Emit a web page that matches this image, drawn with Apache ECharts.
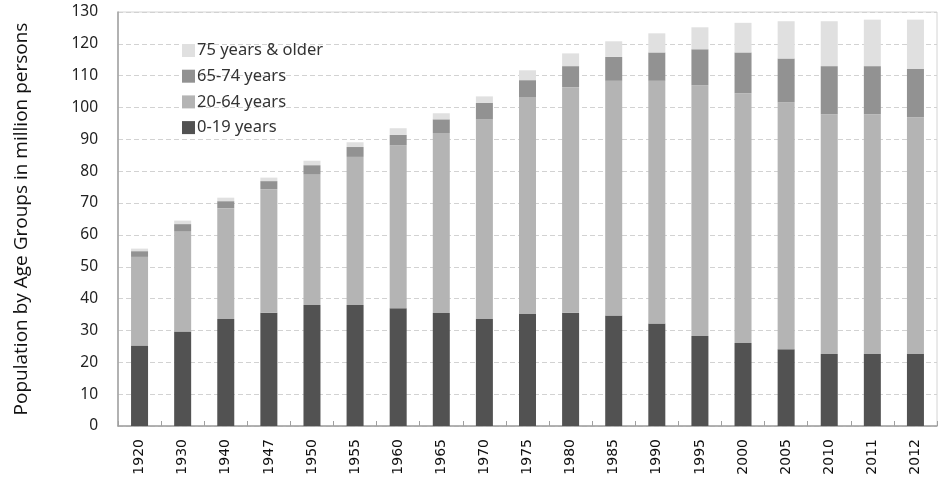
<!DOCTYPE html>
<html>
<head>
<meta charset="utf-8">
<script src="https://cdn.jsdelivr.net/npm/echarts@6/dist/echarts.min.js"></script>
<style>
  html, body { margin: 0; padding: 0; background: #fff; }
  #chart { width: 939px; height: 478px; }
</style>
</head>
<body>
<div id="chart"></div>
<script>
// Census years
const years = ['1920','1930','1940','1947','1950','1955','1960','1965','1970','1975',
               '1980','1985','1990','1995','2000','2005','2010','2011','2012'];

// Population per age group, million persons
const age0to19 = [25.3, 29.7, 33.6, 35.6, 38.0, 38.0, 37.0, 35.5, 33.6, 35.2,
                  35.6, 34.7, 32.2, 28.3, 26.1, 24.1, 22.6, 22.6, 22.6];
const age20to64 = [27.8, 31.5, 34.8, 38.7, 41.1, 46.5, 51.1, 56.5, 62.7, 68.0,
                   70.8, 73.7, 76.2, 78.7, 78.4, 77.5, 75.3, 75.3, 74.3];
const age65to74 = [1.8, 2.2, 2.2, 2.6, 2.8, 3.1, 3.3, 4.3, 5.2, 5.4,
                   6.6, 7.5, 8.9, 11.3, 12.8, 13.8, 15.1, 15.1, 15.2];
const age75plus = [0.8, 1.1, 1.1, 1.1, 1.4, 1.5, 2.1, 1.9, 2.0, 3.1,
                   4.0, 4.9, 6.0, 6.9, 9.3, 11.7, 14.1, 14.6, 15.5];

const groupNames = ['0-19 years', '20-64 years', '65-74 years', '75 years & older'];
const groupValues = [age0to19, age20to64, age65to74, age75plus];
const groupColors = ['#525252', '#b4b4b4', '#929292', '#e0e0e0'];

const yTicks = { min: 0, max: 130, interval: 10 };

const chart = echarts.init(document.getElementById('chart'), null, { renderer: 'canvas' });

chart.setOption({
  animation: false,
  textStyle: { fontFamily: 'Noto Sans' },
  grid: {
    left: 118, right: 2, top: 12, bottom: 52,
    show: true, borderColor: '#d4d4d4', borderWidth: 1, backgroundColor: 'transparent'
  },
  legend: {
    orient: 'vertical',
    left: 177, top: 37,
    itemWidth: 13, itemHeight: 13, itemGap: 8.7,
    icon: 'rect',
    data: groupNames.slice().reverse(),
    textStyle: { fontFamily: 'Noto Sans', fontSize: 16.5, color: '#333', padding: [0, 0, 0, -3] }
  },
  xAxis: {
    type: 'category',
    data: years,
    boundaryGap: true,
    axisLine: { lineStyle: { color: '#a0a0a0', width: 1.5 } },
    axisTick: { show: true, inside: true, length: 5, lineStyle: { color: '#a0a0a0' } },
    axisLabel: {
      rotate: 90, margin: 13, fontSize: 14, color: '#111',
      fontFamily: 'DejaVu Sans'
    },
    splitLine: { show: false }
  },
  yAxis: {
    type: 'value',
    min: yTicks.min, max: yTicks.max, interval: yTicks.interval,
    name: 'Population by Age Groups in million persons',
    nameLocation: 'middle',
    nameGap: 87,
    nameTextStyle: { fontFamily: 'Open Sans', fontSize: 19, color: '#111' },
    axisLine: { show: true, lineStyle: { color: '#a0a0a0', width: 1.5 } },
    axisTick: { show: false },
    axisLabel: { fontSize: 15.5, color: '#222', margin: 20, fontFamily: 'Noto Sans' },
    splitLine: { show: true, lineStyle: { color: '#d2d2d2', type: [5, 3], width: 1 } }
  },
  series: groupNames.map((name, i) => ({
    name: name,
    type: 'bar',
    stack: 'pop',
    barWidth: 17,
    data: groupValues[i],
    itemStyle: { color: groupColors[i] }
  }))
});
</script>
</body>
</html>
